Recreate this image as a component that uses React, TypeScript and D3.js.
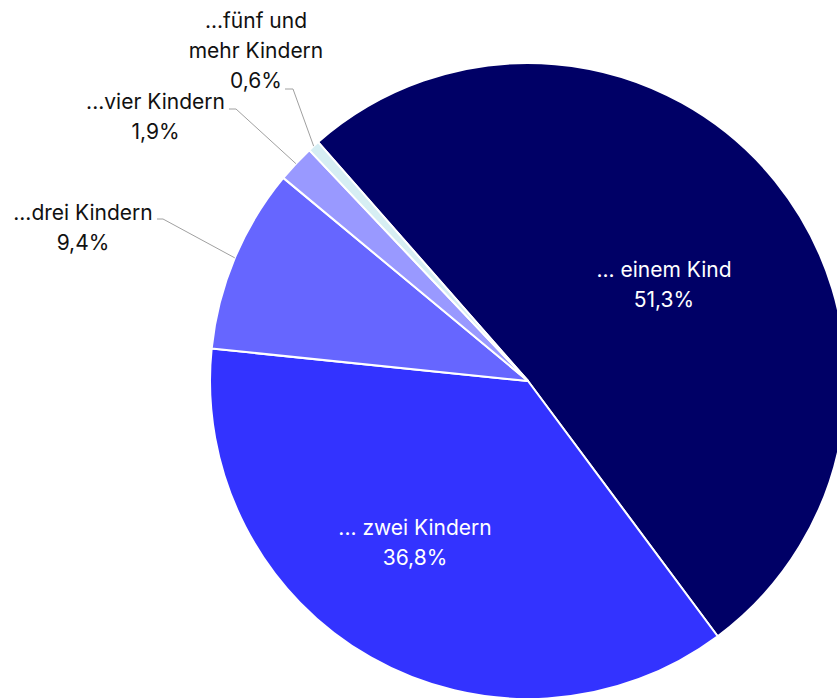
import React from "react";
import * as d3 from "d3";

const categories = ["... einem Kind", "... zwei Kindern", "...drei Kindern", "...vier Kindern", "...fünf und mehr Kindern"];
const values = [51.3, 36.8, 9.4, 1.9, 0.6];
const valueLabels = ["51,3%", "36,8%", "9,4%", "1,9%", "0,6%"];
const labelLines = [["... einem Kind"], ["... zwei Kindern"], ["...drei Kindern"], ["...vier Kindern"], ["...fünf und", "mehr Kindern"]];
const colors = ["#000066", "#3333ff", "#6666ff", "#9999ff", "#d6eef3"];

// layout (styling, not data)
const W = 837, H = 698;
const CX = 528, CY = 381, R = 318;
const START = (-41.3 * Math.PI) / 180;
const LINE_H = 30;
const FS = 21;
// inside label offsets from centroid at radius 180
const insideOffsets: Record<number, [number, number]> = { 0: [-4, 9], 1: [-24, -2] };
// outside labels: bend point and label center x / first baseline
const outside: Record<number, { bx: number; by: number; sx: number; lx: number; ly: number }> = {
  2: { bx: 163, by: 219, sx: 157, lx: 83, ly: 220 },
  3: { bx: 236, by: 109, sx: 229, lx: 155.5, ly: 109 },
  4: { bx: 293, by: 89, sx: 285, lx: 256, ly: 27.5 },
};

export default function App() {
  const pie = d3.pie<number>().sort(null).value((d) => d).startAngle(START).endAngle(START + 2 * Math.PI);
  const arcs = pie(values);
  const arc = d3.arc<d3.PieArcDatum<number>>().innerRadius(0).outerRadius(R);
  const labelArc = d3.arc<d3.PieArcDatum<number>>().innerRadius(180).outerRadius(180);
  const edgeArc = d3.arc<d3.PieArcDatum<number>>().innerRadius(R).outerRadius(R);
  const font = "Inter, 'Noto Sans', sans-serif";

  return (
    <svg width={W} height={H} style={{ position: "absolute", left: 0, top: 0 }} fontFamily={font}>
      <g transform={`translate(${CX},${CY})`}>
        {arcs.map((a, i) => (
          <path key={categories[i]} d={arc(a) || ""} fill={colors[i]} stroke="#ffffff" strokeWidth={2} strokeLinejoin="round" />
        ))}
      </g>
      {arcs.map((a, i) => {
        const off = insideOffsets[i];
        if (!off) return null;
        const [x, y] = labelArc.centroid(a);
        const tx = CX + x + off[0];
        const ty = CY + y + off[1];
        return (
          <text key={"in" + i} x={tx} y={ty} fill="#ffffff" fontSize={FS} textAnchor="middle">
            {labelLines[i].map((l, k) => (
              <tspan key={k} x={tx} y={ty + k * LINE_H}>{l}</tspan>
            ))}
            <tspan x={tx} y={ty + labelLines[i].length * LINE_H}>{valueLabels[i]}</tspan>
          </text>
        );
      })}
      {arcs.map((a, i) => {
        const o = outside[i];
        if (!o) return null;
        const [ex, ey] = edgeArc.centroid(a);
        const lines = [...labelLines[i], valueLabels[i]];
        return (
          <g key={"out" + i}>
            <polyline
              points={`${o.sx},${o.by} ${o.bx},${o.by} ${CX + ex},${CY + ey}`}
              fill="none"
              stroke="#a0a0a0"
              strokeWidth={1}
            />
            <text fill="#111111" fontSize={FS} textAnchor="middle">
              {lines.map((l, k) => (
                <tspan key={k} x={o.lx} y={o.ly + k * LINE_H}>{l}</tspan>
              ))}
            </text>
          </g>
        );
      })}
    </svg>
  );
}
